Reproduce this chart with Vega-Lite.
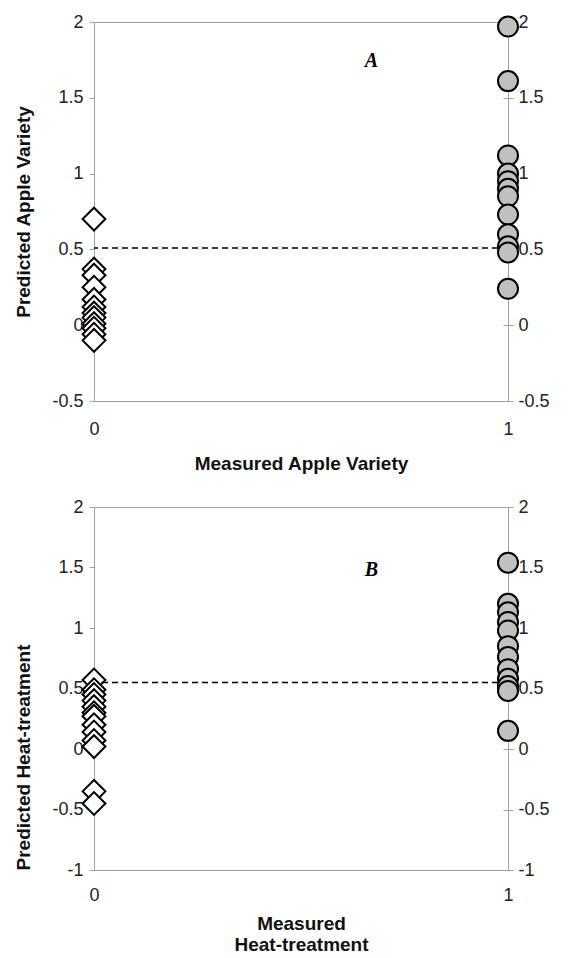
{
  "$schema": "https://vega.github.io/schema/vega-lite/v6.json",
  "padding": {"top": 12, "left": 14, "right": 5, "bottom": 5},
  "background": "white",
  "config": {
    "view": {"stroke": "#a0a0a0", "strokeWidth": 1},
    "font": "Liberation Sans",
    "axis": {
      "grid": false,
      "domainColor": "#a0a0a0",
      "tickColor": "#a0a0a0",
      "labelFont": "Liberation Sans",
      "labelFontSize": 18,
      "labelColor": "#222222",
      "titleFont": "Liberation Sans",
      "titleFontSize": 19,
      "titleFontWeight": "bold",
      "titleColor": "#111111"
    }
  },
  "datasets": {
    "ptsA": [
      {"measured": 0, "predicted": 0.70},
      {"measured": 0, "predicted": 0.37},
      {"measured": 0, "predicted": 0.33},
      {"measured": 0, "predicted": 0.25},
      {"measured": 0, "predicted": 0.17},
      {"measured": 0, "predicted": 0.12},
      {"measured": 0, "predicted": 0.08},
      {"measured": 0, "predicted": 0.05},
      {"measured": 0, "predicted": 0.01},
      {"measured": 0, "predicted": -0.02},
      {"measured": 0, "predicted": -0.06},
      {"measured": 0, "predicted": -0.10},
      {"measured": 1, "predicted": 1.97},
      {"measured": 1, "predicted": 1.61},
      {"measured": 1, "predicted": 1.12},
      {"measured": 1, "predicted": 1.00},
      {"measured": 1, "predicted": 0.95},
      {"measured": 1, "predicted": 0.90},
      {"measured": 1, "predicted": 0.85},
      {"measured": 1, "predicted": 0.73},
      {"measured": 1, "predicted": 0.60},
      {"measured": 1, "predicted": 0.52},
      {"measured": 1, "predicted": 0.48},
      {"measured": 1, "predicted": 0.24}
    ],
    "ptsB": [
      {"measured": 0, "predicted": 0.57},
      {"measured": 0, "predicted": 0.49},
      {"measured": 0, "predicted": 0.45},
      {"measured": 0, "predicted": 0.40},
      {"measured": 0, "predicted": 0.35},
      {"measured": 0, "predicted": 0.30},
      {"measured": 0, "predicted": 0.27},
      {"measured": 0, "predicted": 0.20},
      {"measured": 0, "predicted": 0.14},
      {"measured": 0, "predicted": 0.07},
      {"measured": 0, "predicted": 0.02},
      {"measured": 0, "predicted": -0.35},
      {"measured": 0, "predicted": -0.45},
      {"measured": 1, "predicted": 1.54},
      {"measured": 1, "predicted": 1.20},
      {"measured": 1, "predicted": 1.13},
      {"measured": 1, "predicted": 1.05},
      {"measured": 1, "predicted": 0.98},
      {"measured": 1, "predicted": 0.85},
      {"measured": 1, "predicted": 0.76},
      {"measured": 1, "predicted": 0.66},
      {"measured": 1, "predicted": 0.58},
      {"measured": 1, "predicted": 0.52},
      {"measured": 1, "predicted": 0.48},
      {"measured": 1, "predicted": 0.15}
    ],
    "lineA": [{"threshold": 0.51}],
    "lineB": [{"threshold": 0.55}],
    "labA": [{"measured": 0.67, "predicted": 1.74, "label": "A"}],
    "labB": [{"measured": 0.67, "predicted": 1.48, "label": "B"}]
  },
  "vconcat": [
    {
      "width": 414,
      "height": 379,
      "layer": [
        {
          "data": {"name": "lineA"},
          "mark": {"type": "rule", "strokeDash": [6, 4], "color": "black", "strokeWidth": 1.5},
          "encoding": {
            "y": {
              "field": "threshold", "type": "quantitative",
              "scale": {"domain": [-0.5, 2], "nice": false},
              "axis": {"orient": "left", "values": [-0.5, 0, 0.5, 1, 1.5, 2], "labelExpr": "datum.value + ''", "tickSize": 5, "labelPadding": 6, "titlePadding": 18, "title": "Predicted Apple Variety"}
            }
          }
        },
        {
          "data": {"name": "ptsA"},
          "mark": {"type": "point", "filled": true, "stroke": "black", "strokeWidth": 2, "opacity": 1},
          "encoding": {
            "x": {
              "field": "measured", "type": "quantitative",
              "scale": {"domain": [0, 1], "nice": false},
              "axis": {"values": [0, 1], "labelExpr": "datum.value + ''", "ticks": false, "labelPadding": 19, "titlePadding": 16, "title": "Measured Apple Variety", "labelFlush": false}
            },
            "y": {
              "field": "predicted", "type": "quantitative",
              "scale": {"domain": [-0.5, 2], "nice": false},
              "axis": {"orient": "right", "values": [-0.5, 0, 0.5, 1, 1.5, 2], "labelExpr": "datum.value + ''", "tickSize": 5, "labelPadding": 5, "title": null}
            },
            "shape": {"field": "measured", "type": "nominal", "scale": {"domain": [0, 1], "range": ["diamond", "circle"]}, "legend": null},
            "fill": {"field": "measured", "type": "nominal", "scale": {"domain": [0, 1], "range": ["#ffffff", "#c0c0c0"]}, "legend": null},
            "size": {"field": "measured", "type": "ordinal", "scale": {"domain": [0, 1], "range": [520, 400]}, "legend": null}
          }
        },
        {
          "data": {"name": "labA"},
          "mark": {"type": "text", "font": "Liberation Serif", "fontStyle": "italic", "fontWeight": "bold", "fontSize": 20, "color": "black"},
          "encoding": {
            "x": {"field": "measured", "type": "quantitative", "scale": {"domain": [0, 1], "nice": false}},
            "y": {
              "field": "predicted", "type": "quantitative",
              "scale": {"domain": [-0.5, 2], "nice": false},
              "axis": {"orient": "right", "offset": -5, "values": [-0.5, 0, 0.5, 1, 1.5, 2], "labels": false, "domain": false, "tickSize": 5, "title": null}
            },
            "text": {"field": "label", "type": "nominal"}
          }
        }
      ],
      "resolve": {"axis": {"y": "independent"}}
    },
    {
      "width": 414,
      "height": 363,
      "layer": [
        {
          "data": {"name": "lineB"},
          "mark": {"type": "rule", "strokeDash": [6, 4], "color": "black", "strokeWidth": 1.5},
          "encoding": {
            "y": {
              "field": "threshold", "type": "quantitative",
              "scale": {"domain": [-1, 2], "nice": false},
              "axis": {"orient": "left", "values": [-1, -0.5, 0, 0.5, 1, 1.5, 2], "labelExpr": "datum.value + ''", "tickSize": 5, "labelPadding": 6, "titlePadding": 18, "title": "Predicted Heat-treatment", "titleY": 250}
            }
          }
        },
        {
          "data": {"name": "ptsB"},
          "mark": {"type": "point", "filled": true, "stroke": "black", "strokeWidth": 2, "opacity": 1},
          "encoding": {
            "x": {
              "field": "measured", "type": "quantitative",
              "scale": {"domain": [0, 1], "nice": false},
              "axis": {"values": [0, 1], "labelExpr": "datum.value + ''", "ticks": false, "labelPadding": 16, "titlePadding": 10, "title": ["Measured", "Heat-treatment"], "titleLineHeight": 21, "labelFlush": false}
            },
            "y": {
              "field": "predicted", "type": "quantitative",
              "scale": {"domain": [-1, 2], "nice": false},
              "axis": {"orient": "right", "values": [-1, -0.5, 0, 0.5, 1, 1.5, 2], "labelExpr": "datum.value + ''", "tickSize": 5, "labelPadding": 5, "title": null}
            },
            "shape": {"field": "measured", "type": "nominal", "scale": {"domain": [0, 1], "range": ["diamond", "circle"]}, "legend": null},
            "fill": {"field": "measured", "type": "nominal", "scale": {"domain": [0, 1], "range": ["#ffffff", "#c0c0c0"]}, "legend": null},
            "size": {"field": "measured", "type": "ordinal", "scale": {"domain": [0, 1], "range": [520, 400]}, "legend": null}
          }
        },
        {
          "data": {"name": "labB"},
          "mark": {"type": "text", "font": "Liberation Serif", "fontStyle": "italic", "fontWeight": "bold", "fontSize": 20, "color": "black"},
          "encoding": {
            "x": {"field": "measured", "type": "quantitative", "scale": {"domain": [0, 1], "nice": false}},
            "y": {
              "field": "predicted", "type": "quantitative",
              "scale": {"domain": [-1, 2], "nice": false},
              "axis": {"orient": "right", "offset": -5, "values": [-1, -0.5, 0, 0.5, 1, 1.5, 2], "labels": false, "domain": false, "tickSize": 5, "title": null}
            },
            "text": {"field": "label", "type": "nominal"}
          }
        }
      ],
      "resolve": {"axis": {"y": "independent"}}
    }
  ],
  "spacing": 23
}
